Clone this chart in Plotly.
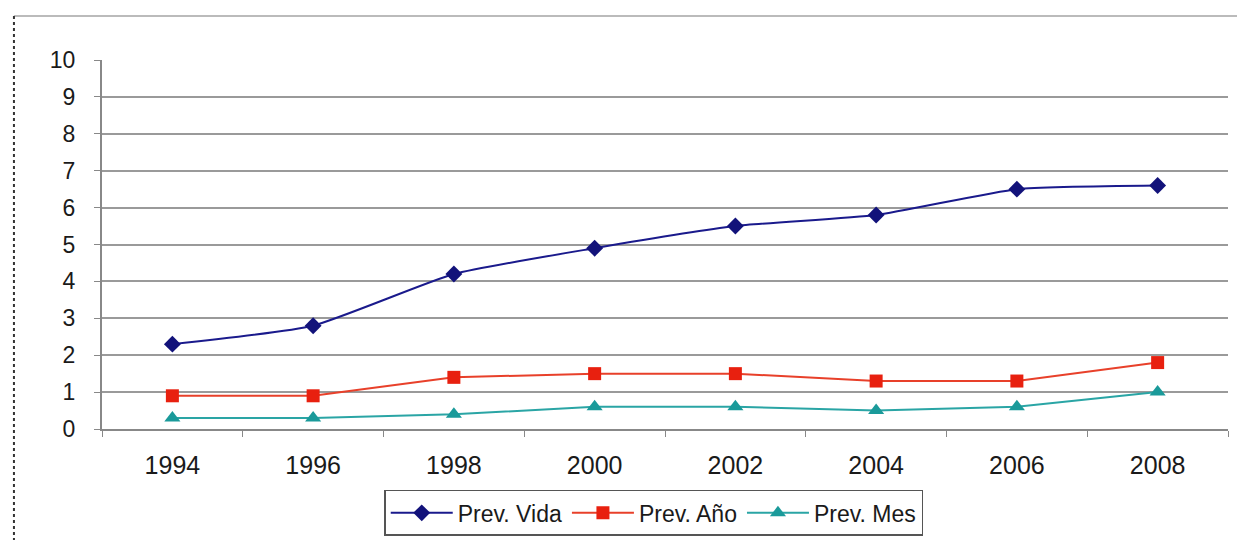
import plotly.graph_objects as go

years = ["1994", "1996", "1998", "2000", "2002", "2004", "2006", "2008"]
prev_vida = [2.3, 2.8, 4.2, 4.9, 5.5, 5.8, 6.5, 6.6]
prev_anio = [0.9, 0.9, 1.4, 1.5, 1.5, 1.3, 1.3, 1.8]
prev_mes = [0.3, 0.3, 0.4, 0.6, 0.6, 0.5, 0.6, 1.0]

fig = go.Figure()
fig.add_trace(go.Scatter(x=years, y=prev_vida, name="Prev. Vida", mode="lines+markers",
                         line=dict(color="#1a1a8c", width=2, shape="spline", smoothing=0.5),
                         marker=dict(symbol="diamond", size=13, color="#12127a")))
fig.add_trace(go.Scatter(x=years, y=prev_anio, name="Prev. Año", mode="lines+markers",
                         line=dict(color="#e8402a", width=2),
                         marker=dict(symbol="square", size=13, color="#e8200f")))
fig.add_trace(go.Scatter(x=years, y=prev_mes, name="Prev. Mes", mode="lines+markers",
                         line=dict(color="#2aa5a5", width=2),
                         marker=dict(symbol="triangle-up", size=14, color="#1a9a9a")))

font = "Liberation Sans, Arial, sans-serif"
fig.update_layout(
    width=1245, height=540,
    margin=dict(l=94, r=25, t=52, b=119),
    paper_bgcolor="white", plot_bgcolor="white",
    font=dict(family=font, size=22, color="#1a1a1a"),
    showlegend=True,
    legend=dict(orientation="h", x=0.49, y=-0.165, xanchor="center", yanchor="top",
                bordercolor="#555555", borderwidth=1.5, font=dict(size=23, color="#1a1a1a"),
                itemwidth=62, tracegroupgap=0),
    xaxis=dict(type="category", range=[-0.5, 7.5], showgrid=False, showline=True,
               linecolor="#888888", linewidth=2, ticks="outside", tickson="boundaries",
               ticklen=6, tickcolor="#888888", tickfont=dict(size=25), ticklabelstandoff=13),
    yaxis=dict(range=[0, 10], dtick=1, showgrid=True, gridcolor="#9a9a9a", gridwidth=2,
               showline=True, linecolor="#888888", linewidth=2, ticks="outside",
               ticklen=6, tickcolor="#888888", tickfont=dict(size=23), zeroline=False,
               ticklabelstandoff=14),
)
# outer frame (top line and dotted left border)
fig.add_shape(type="line", xref="paper", yref="paper", x0=-0.0782, x1=1.03, y0=1.119, y1=1.119,
              line=dict(color="#bbbbbb", width=2))
fig.add_shape(type="line", xref="paper", yref="paper", x0=-0.0782, x1=-0.0782, y0=1.119, y1=-0.32,
              line=dict(color="#333333", width=2, dash="dot"))
fig.write_html("out.html")
